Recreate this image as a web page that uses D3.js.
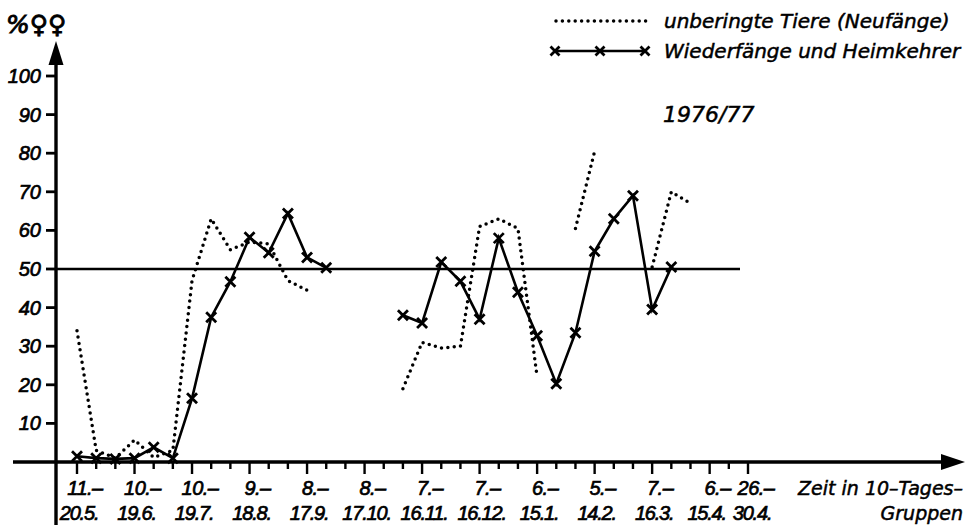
<!DOCTYPE html>
<html>
<head>
<meta charset="utf-8">
<script src="https://cdn.jsdelivr.net/npm/d3@7"></script>
<style>
  body { margin: 0; background: #fff; }
  svg text { font-family: "Liberation Sans", Arial, sans-serif; font-style: italic; fill: #000; stroke: #000; stroke-width: 0.7px; }
  svg text.word { font-family: "DejaVu Sans", sans-serif; stroke-width: 0.5px; }
</style>
</head>
<body>
<div id="chart"></div>
<script>
// 10-day groups, index 0 = 11.-20.5. ... index 35 = 26.-30.4.
var groupCount = 36;
var majorTicks = [0, 3, 6, 9, 12, 15, 18, 21, 24, 27, 30, 33, 35];
var labelTop = ["11.–", "10.–", "10.–", "9.–", "8.–", "8.–", "7.–", "7.–", "6.–", "5.–", "7.–", "6.–", "26.–"];
var labelBottom = ["20.5.", "19.6.", "19.7.", "18.8.", "17.9.", "17.10.", "16.11.", "16.12.", "15.1.", "14.2.", "16.3.", "15.4.", "30.4."];
var yTicks = [10, 20, 30, 40, 50, 60, 70, 80, 90, 100];

// unberingte Tiere (Neufänge), % females; null = no value
var neufaenge = [34, 3, 1, 5.7, 1.2, 3, 47, 63, 55, 57, 56.5, 47, 44.5,
  null, null, null, null,
  19, 31, 29.5, 30, 61, 63, 60.5, 22, null, 60.5, 80.5, null, null, 50.5, 70, 67];

// Wiederfänge und Heimkehrer, % females
var wiederfaenge = [1.5, 1, 0.8, 1, 3.8, 1, 16.5, 37.5, 46.7, 58.2, 54.2, 64.4, 53, 50.3,
  null, null, null,
  38, 36, 51.8, 46.8, 37, 58, 44, 32.7, 20.3, 33.5, 54.6, 63, 69, 39.5, 50.5];

var width = 970, height = 528;

var svg = d3.select("#chart").append("svg")
  .attr("width", width)
  .attr("height", height);

var x = d3.scaleLinear().domain([0, 35]).range([77, 748]);
var y = d3.scaleLinear().domain([0, 100]).range([462, 76]);
var axisX = 56;

// axes
svg.append("line")
  .attr("x1", 13).attr("x2", 950)
  .attr("y1", y(0)).attr("y2", y(0))
  .attr("stroke", "#000").attr("stroke-width", 3.4);
svg.append("path")
  .attr("d", "M965," + y(0) + "L941," + (y(0) - 8) + "L941," + (y(0) + 8) + "Z")
  .attr("fill", "#000");

svg.append("line")
  .attr("x1", axisX).attr("x2", axisX)
  .attr("y1", 525).attr("y2", 55)
  .attr("stroke", "#000").attr("stroke-width", 3.4);
svg.append("path")
  .attr("d", "M" + axisX + ",41L" + (axisX - 7.5) + ",65L" + (axisX + 7.5) + ",65Z")
  .attr("fill", "#000");

// y ticks
svg.selectAll("line.ytick")
  .data(yTicks)
  .enter().append("line")
  .attr("class", "ytick")
  .attr("x1", axisX - 10).attr("x2", axisX)
  .attr("y1", d => y(d)).attr("y2", d => y(d))
  .attr("stroke", "#000").attr("stroke-width", 2.8);

svg.selectAll("text.ylab")
  .data(yTicks)
  .enter().append("text")
  .attr("class", "ylab")
  .attr("x", 41)
  .attr("y", d => y(d) + 7)
  .attr("text-anchor", "end")
  .attr("font-size", 20)
  .text(d => d);

// x ticks
svg.selectAll("line.xtick")
  .data(d3.range(groupCount))
  .enter().append("line")
  .attr("class", "xtick")
  .attr("x1", d => x(d)).attr("x2", d => x(d))
  .attr("y1", y(0))
  .attr("y2", d => y(0) + (majorTicks.includes(d) ? 12 : 7))
  .attr("stroke", "#000").attr("stroke-width", 2.4);

// the last two groups sit close together, so their dates are nudged apart
function bottomShift(d) {
  if (d === 33) return -3;
  if (d === 35) return 4;
  return 2;
}

var xl = svg.selectAll("g.xlab")
  .data(majorTicks)
  .enter().append("g")
  .attr("class", "xlab");
xl.append("text")
  .attr("x", d => x(d) + 8)
  .attr("y", 495)
  .attr("text-anchor", "middle")
  .attr("font-size", 20)
  .attr("letter-spacing", -0.5)
  .text((d, i) => labelTop[i]);
xl.append("text")
  .attr("x", d => x(d) + bottomShift(d))
  .attr("y", 520)
  .attr("text-anchor", "middle")
  .attr("font-size", 20)
  .attr("letter-spacing", -1.2)
  .text((d, i) => labelBottom[i]);

svg.append("text")
  .attr("class", "word")
  .attr("x", 963).attr("y", 495)
  .attr("text-anchor", "end")
  .attr("font-size", 19)
  .text("Zeit in 10–Tages–");
svg.append("text")
  .attr("class", "word")
  .attr("x", 963).attr("y", 520)
  .attr("text-anchor", "end")
  .attr("font-size", 19)
  .text("Gruppen");

// y label
svg.append("text")
  .attr("x", 6).attr("y", 33)
  .attr("font-size", 25)
  .style("font-family", "'DejaVu Sans', sans-serif")
  .style("stroke-width", "0.9px")
  .text("%♀♀");

// 50 % reference line
svg.append("line")
  .attr("x1", axisX).attr("x2", 740)
  .attr("y1", y(50)).attr("y2", y(50))
  .attr("stroke", "#000").attr("stroke-width", 2.6);

var line = d3.line()
  .defined(d => d != null)
  .x((d, i) => x(i))
  .y(d => y(d));

// dotted series
svg.append("path")
  .datum(neufaenge)
  .attr("d", line)
  .attr("fill", "none")
  .attr("stroke", "#000")
  .attr("stroke-width", 3.5)
  .attr("stroke-linecap", "round")
  .attr("stroke-dasharray", "0 6.4");

// solid series with crosses
svg.append("path")
  .datum(wiederfaenge)
  .attr("d", line)
  .attr("fill", "none")
  .attr("stroke", "#000")
  .attr("stroke-width", 2.6);

function cross(sel, s) {
  sel.append("path")
    .attr("d", "M" + (-s) + "," + (-s) + "L" + s + "," + s + "M" + (-s) + "," + s + "L" + s + "," + (-s))
    .attr("stroke", "#000")
    .attr("stroke-width", 2.8)
    .attr("fill", "none");
}

var pts = wiederfaenge.map((v, i) => ({ i: i, v: v })).filter(d => d.v != null);
svg.selectAll("g.mark")
  .data(pts)
  .enter().append("g")
  .attr("class", "mark")
  .attr("transform", d => "translate(" + x(d.i) + "," + y(d.v) + ")")
  .call(cross, 5);

// legend
svg.append("line")
  .attr("x1", 556).attr("x2", 648)
  .attr("y1", 21).attr("y2", 21)
  .attr("stroke", "#000")
  .attr("stroke-width", 3.5)
  .attr("stroke-linecap", "round")
  .attr("stroke-dasharray", "0 6.4");
svg.append("text")
  .attr("class", "word")
  .attr("x", 664).attr("y", 28)
  .attr("font-size", 20)
  .text("unberingte Tiere (Neufänge)");

svg.append("line")
  .attr("x1", 555).attr("x2", 645)
  .attr("y1", 51).attr("y2", 51)
  .attr("stroke", "#000").attr("stroke-width", 2.6);
svg.selectAll("g.legmark")
  .data([555, 600, 645])
  .enter().append("g")
  .attr("class", "legmark")
  .attr("transform", d => "translate(" + d + ",51)")
  .call(cross, 4.5);
svg.append("text")
  .attr("class", "word")
  .attr("x", 664).attr("y", 58)
  .attr("font-size", 20)
  .text("Wiederfänge und Heimkehrer");

svg.append("text")
  .attr("class", "word")
  .attr("x", 663).attr("y", 122)
  .attr("font-size", 22)
  .text("1976/77");
</script>
</body>
</html>
